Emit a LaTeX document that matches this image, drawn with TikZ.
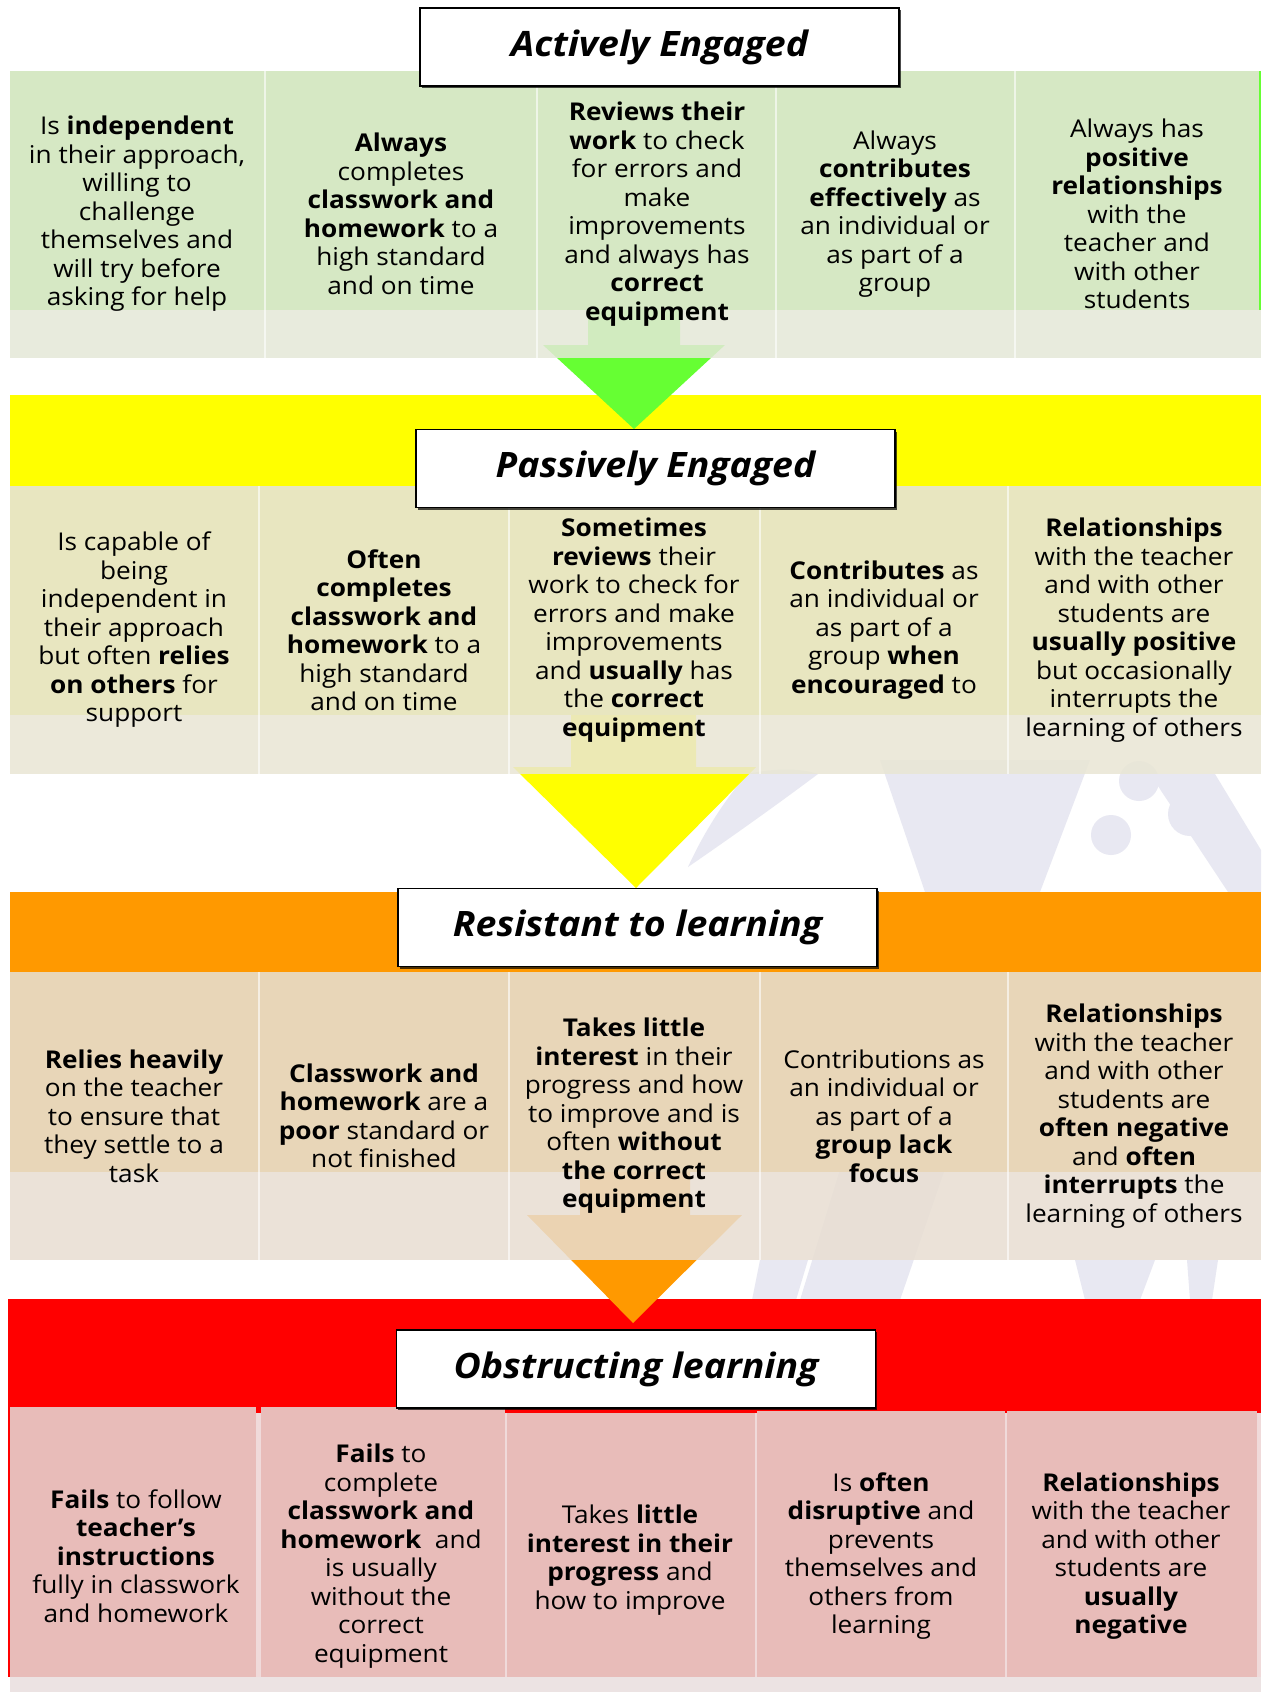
\documentclass[tikz,border=0pt]{standalone}
\usepackage{fontspec}
\setmainfont{Open Sans}[FakeStretch=1.07]
\usetikzlibrary{shadows}

\definecolor{greenup}{HTML}{D6E8C4}
\definecolor{greenlow}{HTML}{E4E8D8}
\definecolor{yellowup}{HTML}{E8E6C0}
\definecolor{yellowlow}{HTML}{E9E6D4}
\definecolor{orangeup}{HTML}{E8D6B8}
\definecolor{orangelow}{HTML}{E8DED2}
\definecolor{redcell}{HTML}{E8BCB9}
\definecolor{redgap}{HTML}{F0DADA}
\definecolor{footshade}{HTML}{ECE3E3}
\definecolor{greenarrow}{HTML}{66FF33}
\definecolor{bandyellow}{HTML}{FFFF00}
\definecolor{bandorange}{HTML}{FF9900}
\definecolor{bandred}{HTML}{FF0000}
\definecolor{logomark}{HTML}{E8E8F2}

\begin{document}
\begin{tikzpicture}[x=1pt,y=-1pt,
        cell/.style={align=center,inner sep=0pt,font=\fontsize{24.5}{28.5}\selectfont},
        title/.style={draw=black,line width=1.6pt,fill=white,minimum width=479pt,minimum height=78pt,
            font=\fontsize{35}{40}\selectfont\bfseries\itshape,
            drop shadow={shadow xshift=1.5pt,shadow yshift=-2pt,opacity=.7,fill=black}},
        divider/.style={draw=white,line width=1.2pt,opacity=.6}]

    \fill[white] (0,0) rectangle (1261,1692);
    \useasboundingbox (0,0) rectangle (1261,1692);

    % faint logo behind everything
    \fill[logomark] (880,760) -- (1090,760) -- (1040,892) -- (900,1300) -- (800,1300) -- (925,892) -- cycle;
    \fill[logomark] (747,774) .. controls (775,768) and (800,768) .. (818,774)
        .. controls (770,810) and (720,845) .. (688,867) .. controls (705,830) and (725,800) .. cycle;
    \fill[logomark] (1150,774) -- (1215,774) -- (1261,850) -- (1261,892) -- (1228,892) -- cycle;
    \fill[logomark] (1139,781) circle (20) (1190,814) circle (22) (1111,835) circle (20);
    \fill[logomark] (760,1260) -- (808,1260) -- (796,1300) -- (752,1300) -- cycle
        (1075,1260) -- (1155,1260) -- (1140,1300) -- (1085,1300) -- cycle
        (1187,1260) -- (1218,1260) -- (1212,1300) -- (1190,1300) -- cycle;

    % coloured bands
    \fill[bandyellow] (10,395) rectangle (1261,486);
    \fill[bandorange] (10,892) rectangle (1261,972);
    \fill[bandred] (10,1299) rectangle (1261,1413);
    \fill[bandred] (8,1299) rectangle (11,1677);

    % upper parts of the panels
    \fill[greenup] (10,71) rectangle (1261,310);
    \fill[yellowup] (10,486) rectangle (1261,715);
    \fill[orangeup] (10,972) rectangle (1261,1172);

    % arrows from level to level
    \coordinate (tipA) at (634,429);
    \coordinate (tipB) at (636,888);
    \coordinate (tipC) at (633,1323);
    \fill[greenarrow] (588,310) -- (680,310) -- (680,345) -- (725,345) -- (tipA) -- (543,345) -- (588,345) -- cycle;
    \fill[bandyellow] (571,715) -- (696,715) -- (696,767) -- (756,767) -- (tipB) -- (513,767) -- (571,767) -- cycle;
    \fill[bandorange] (580,1172) -- (690,1172) -- (690,1215) -- (742,1215) -- (tipC) -- (527,1215) -- (580,1215) -- cycle;

    % see-through lower strips
    \fill[greenlow,opacity=.85] (10,310) rectangle (1261,358);
    \fill[yellowlow,opacity=.85] (10,715) rectangle (1261,774);
    \fill[orangelow,opacity=.85] (10,1172) rectangle (1261,1260);
    \draw[greenarrow,line width=1.5pt] (1260,71) -- (1260,310);

    % red level cells
    \fill[redgap] (10,1413) rectangle (1261,1677);
    \fill[redcell] (10,1407) rectangle (256,1677);
    \fill[redcell] (261,1407) rectangle (505,1677);
    \fill[redcell] (507,1413) rectangle (755,1677);
    \fill[redcell] (757,1411) rectangle (1005,1677);
    \fill[redcell] (1007,1411) rectangle (1257,1677);
    \fill[footshade] (10,1677) rectangle (1261,1692);

    % column dividers
    \draw[divider] (265,71) -- (265,358) (537,71) -- (537,358) (776,71) -- (776,358) (1015,71) -- (1015,358);
    \draw[divider] (259,486) -- (259,774) (509,486) -- (509,774) (760,486) -- (760,774) (1008,486) -- (1008,774);
    \draw[divider] (259,972) -- (259,1260) (509,972) -- (509,1260) (760,972) -- (760,1260) (1008,972) -- (1008,1260);

    % level titles
    \node[title] (active) at (659.5,47) {Actively Engaged};
    \node[title] (passive) at (655.5,468.5) {Passively Engaged};
    \node[title] (resist) at (637.5,927.5) {Resistant to learning};
    \node[title] (obstruct) at (636,1369) {Obstructing learning};

    % actively engaged
    \node[cell] (a1) at (137,214) {Is \textbf{independent}\\in their approach,\\willing to\\challenge\\themselves and\\will try before\\asking for help};
    \node[cell] (a2) at (401,214) {\textbf{Always}\\completes\\\textbf{classwork and}\\\textbf{homework} to a\\high standard\\and on time};
    \node[cell] (a3) at (657,214) {\textbf{Reviews their}\\\textbf{work} to check\\for errors and\\make\\improvements\\and always has\\\textbf{correct}\\\textbf{equipment}};
    \node[cell] (a4) at (895,214) {Always\\\textbf{contributes}\\\textbf{effectively} as\\an individual or\\as part of a\\group};
    \node[cell] (a5) at (1137,214) {Always has\\\textbf{positive}\\\textbf{relationships}\\with the\\teacher and\\with other\\students};

    % passively engaged
    \node[cell] (p1) at (134,630) {Is capable of\\being\\independent in\\their approach\\but often \textbf{relies}\\\textbf{on others} for\\support};
    \node[cell] (p2) at (384,630) {\textbf{Often}\\\textbf{completes}\\\textbf{classwork and}\\\textbf{homework} to a\\high standard\\and on time};
    \node[cell] (p3) at (634,630) {\textbf{Sometimes}\\\textbf{reviews} their\\work to check for\\errors and make\\improvements\\and \textbf{usually} has\\the \textbf{correct}\\\textbf{equipment}};
    \node[cell] (p4) at (884,630) {\textbf{Contributes} as\\an individual or\\as part of a\\group \textbf{when}\\\textbf{encouraged} to};
    \node[cell] (p5) at (1134,630) {\textbf{Relationships}\\with the teacher\\and with other\\students are\\\textbf{usually positive}\\but occasionally\\interrupts the\\learning of others};

    % resistant to learning
    \node[cell] (r1) at (134,1116) {\textbf{Relies heavily}\\on the teacher\\to ensure that\\they settle to a\\task};
    \node[cell] (r2) at (384,1116) {\textbf{Classwork and}\\\textbf{homework} are a\\\textbf{poor} standard or\\not finished};
    \node[cell] (r3) at (634,1116) {\textbf{Takes little}\\\textbf{interest} in their\\progress and how\\to improve and is\\often \textbf{without}\\\textbf{the correct}\\\textbf{equipment}};
    \node[cell] (r4) at (884,1116) {Contributions as\\an individual or\\as part of a\\\textbf{group lack}\\\textbf{focus}};
    \node[cell] (r5) at (1134,1116) {\textbf{Relationships}\\with the teacher\\and with other\\students are\\\textbf{often negative}\\and \textbf{often}\\\textbf{interrupts} the\\learning of others};

    % obstructing learning
    \node[cell] (o1) at (136,1556) {\textbf{Fails} to follow\\\textbf{teacher’s}\\\textbf{instructions}\\fully in classwork\\and homework};
    \node[cell] (o2) at (381,1556) {\textbf{Fails} to\\complete\\\textbf{classwork and}\\\textbf{homework}\ \ and\\is usually\\without the\\correct\\equipment};
    \node[cell] (o3) at (630,1560) {Takes \textbf{little}\\\textbf{interest in their}\\\textbf{progress} and\\how to improve};
    \node[cell] (o4) at (881,1556) {Is \textbf{often}\\\textbf{disruptive} and\\prevents\\themselves and\\others from\\learning};
    \node[cell] (o5) at (1131,1556) {\textbf{Relationships}\\with the teacher\\and with other\\students are\\\textbf{usually}\\\textbf{negative}};

\end{tikzpicture}
\end{document}
